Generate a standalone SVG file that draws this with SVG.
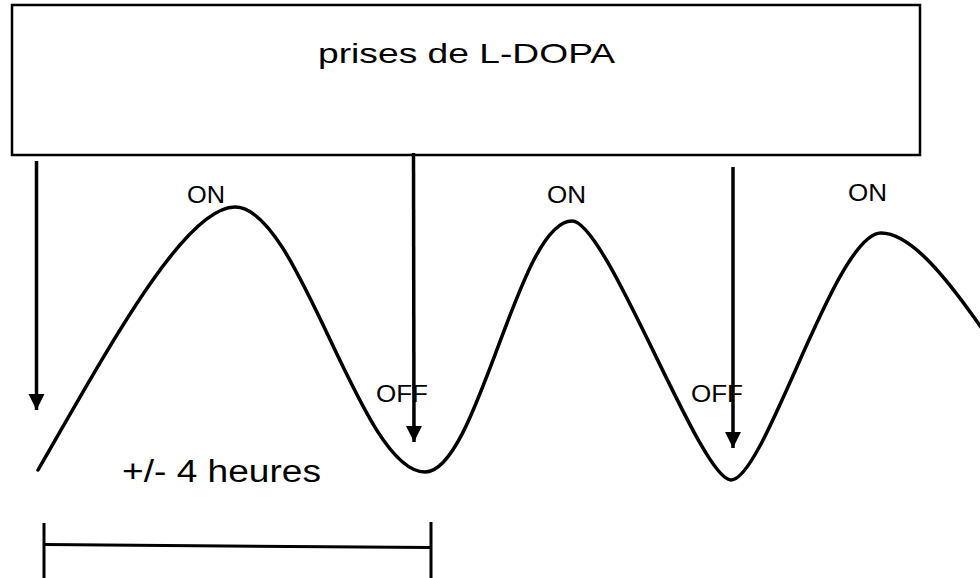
<svg xmlns="http://www.w3.org/2000/svg" width="980" height="578" viewBox="0 0 980 578">
<style>
text{font-family:"Liberation Sans",Arial,sans-serif;fill:#000}
.lbl{font-size:23px}
.conn{stroke:#000;stroke-width:3.5;fill:none}
.wave{stroke:#000;stroke-width:3.5;fill:none;stroke-linecap:round}
.bar{stroke:#000;stroke-width:3;fill:none}
</style>
<defs>
<marker id="ah" markerUnits="userSpaceOnUse" markerWidth="18" markerHeight="18" viewBox="0 0 18 18" refX="16" refY="8" orient="auto">
<path d="M0,0 L16,8 L0,16 z" fill="#000"/>
</marker>
</defs>
<rect width="980" height="578" fill="#fff"/>
<g id="prises">
<rect x="12" y="5" width="908" height="150" fill="#fff" stroke="#000" stroke-width="2.5"/>
<text x="318" y="63" font-size="28" textLength="297" lengthAdjust="spacingAndGlyphs">prises de L-DOPA</text>
</g>
<g id="courbe">
<path class="wave" d="M38,470 C110,345 185,207 235,207 C300,207 360,472 425,472 C478,472 518,221 572,221 C607,221 700,480 731,480 C765,480 835,233 881,233 C910,233 945,275 985,333"/>
</g>
<g id="on1"><text class="lbl" x="187" y="203" textLength="38" lengthAdjust="spacingAndGlyphs">ON</text></g>
<g id="on2"><text class="lbl" x="547" y="203" textLength="39" lengthAdjust="spacingAndGlyphs">ON</text></g>
<g id="on3"><text class="lbl" x="848" y="201" textLength="39" lengthAdjust="spacingAndGlyphs">ON</text></g>
<g id="off1"><text class="lbl" x="376" y="402" textLength="52" lengthAdjust="spacingAndGlyphs">OFF</text></g>
<g id="off2"><text class="lbl" x="691" y="402" textLength="52" lengthAdjust="spacingAndGlyphs">OFF</text></g>
<g id="duree">
<text x="122" y="482" font-size="31" textLength="199" lengthAdjust="spacingAndGlyphs">+/- 4 heures</text>
<line class="bar" x1="44" y1="544.5" x2="431" y2="547.5"/>
<line class="bar" x1="44" y1="523" x2="44" y2="578"/>
<line class="bar" x1="431" y1="522" x2="431" y2="578"/>
</g>
<g id="connecteurs">
<line class="conn" x1="36.5" y1="161" x2="36.5" y2="410" marker-end="url(#ah)"/>
<line class="conn" x1="413.5" y1="153" x2="414" y2="442" marker-end="url(#ah)"/>
<line class="conn" x1="733" y1="167" x2="733" y2="448" marker-end="url(#ah)"/>
</g>
</svg>
